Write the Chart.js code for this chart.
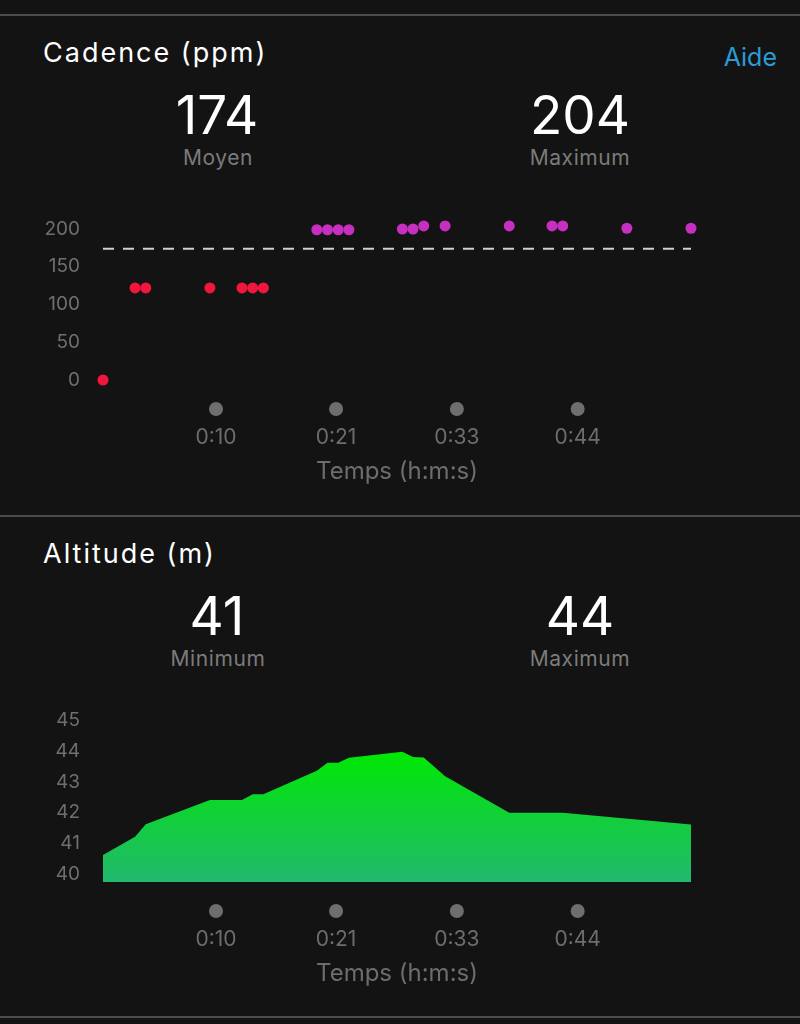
<!DOCTYPE html>
<html>
<head>
<meta charset="utf-8">
<script src="https://cdn.jsdelivr.net/npm/chart.js@4.4.0/dist/chart.umd.min.js"></script>
<style>
  html, body { margin: 0; padding: 0; background: #131313; }
  body { width: 800px; height: 1024px; position: relative; overflow: hidden; font-family: Inter, "Noto Sans", sans-serif; }
  .rule { position: absolute; left: 0; width: 800px; height: 2px; background: #4b4b4b; }
  .t { position: absolute; white-space: nowrap; line-height: 40px; height: 40px; }
  .title { left: 43px; font-size: 27px; color: #fff; letter-spacing: 2px; }
  .aide { right: 23px; font-size: 25px; color: #2b9bd6; }
  .big { font-size: 53px; color: #fff; width: 200px; text-align: center; line-height: 60px; height: 60px; }
  .sub { font-size: 21px; color: #7b7b7b; width: 200px; text-align: center; letter-spacing: 0.6px; }
  .wrap { position: absolute; left: 0; width: 800px; }
</style>
</head>
<body>
<div class="rule" style="top:14px"></div>
<div class="t title" style="top:33px">Cadence (ppm)</div>
<div class="t aide" style="top:37px">Aide</div>
<div class="t big" id="cadAvg" style="top:85px;left:117px"></div>
<div class="t sub" style="top:138px;left:118px">Moyen</div>
<div class="t big" id="cadMax" style="top:85px;left:480px"></div>
<div class="t sub" style="top:138px;left:480px">Maximum</div>
<div class="wrap" style="top:200px;height:300px"><canvas id="cadence"></canvas></div>

<div class="rule" style="top:515px"></div>
<div class="t title" style="top:534px">Altitude (m)</div>
<div class="t big" id="altMin" style="top:586px;left:117px"></div>
<div class="t sub" style="top:639px;left:118px">Minimum</div>
<div class="t big" id="altMax" style="top:586px;left:480px"></div>
<div class="t sub" style="top:639px;left:480px">Maximum</div>
<div class="wrap" style="top:690px;height:312px"><canvas id="altitude"></canvas></div>
<div class="rule" style="top:1016px"></div>

<script>
// elapsed time (minutes) and values
const totalMinutes = 55;
const xTickValues = [10.57, 21.8, 33.1, 44.4];
const xTickLabels = ['0:10', '0:21', '0:33', '0:44'];

const cadenceMinutes = [0, 3, 4, 10, 13, 14, 15, 20, 21, 22, 23, 28, 29, 30, 32, 38, 42, 43, 49, 55];
const cadenceValues = [0, 122, 122, 122, 122, 122, 122, 199, 199, 199, 199, 200, 200, 204, 204, 204, 204, 204, 201, 201];
const cadenceAverage = 174;
const cadenceMaximum = 204;
const cadenceTicks = [0, 50, 100, 150, 200];

const altitudeMinutes = [0, 3, 4, 10, 13, 14, 15, 20, 21, 22, 23, 28, 29, 30, 32, 38, 43, 55];
const altitudeValues = [40.63, 41.22, 41.63, 42.41, 42.41, 42.6, 42.6, 43.36, 43.62, 43.62, 43.78, 43.97, 43.8, 43.79, 43.18, 42.0, 42.0, 41.62];
const altitudeMinimum = 41;
const altitudeMaximum = 44;
const altitudeTicks = [40, 41, 42, 43, 44, 45];

document.getElementById('cadAvg').textContent = cadenceAverage;
document.getElementById('cadMax').textContent = cadenceMaximum;
document.getElementById('altMin').textContent = altitudeMinimum;
document.getElementById('altMax').textContent = altitudeMaximum;

Chart.defaults.font.family = 'Inter, "Noto Sans", sans-serif';

function zoneColor(v) {
  return v < 153 ? '#f2163f' : '#c62fc0';
}

const tickDots = {
  id: 'tickDots',
  afterDraw(chart) {
    const xs = chart.scales.x, ctx = chart.ctx;
    ctx.save();
    ctx.fillStyle = '#6e6e6e';
    xs.ticks.forEach(t => {
      ctx.beginPath();
      ctx.arc(xs.getPixelForValue(t.value), chart.chartArea.bottom + 29, 7, 0, Math.PI * 2);
      ctx.fill();
    });
    ctx.restore();
  }
};

function timeAxis() {
  return {
    type: 'linear', min: 0, max: totalMinutes,
    grid: { display: false, drawTicks: false },
    border: { display: false },
    afterBuildTicks: s => { s.ticks = xTickValues.map(v => ({ value: v })); },
    afterFit: s => { s.height = 120; },
    ticks: {
      padding: 45, color: '#6d6d6d', font: { size: 21 }, autoSkip: false, maxRotation: 0,
      callback: (v, i) => xTickLabels[i]
    },
    title: { display: true, text: 'Temps (h:m:s)', color: '#6d6d6d', font: { size: 24 }, padding: { top: 0, bottom: 14 } }
  };
}

function valueAxis(min, max, ticks) {
  return {
    min: min, max: max,
    grid: { display: false, drawTicks: false },
    border: { display: false },
    afterBuildTicks: s => { s.ticks = ticks.map(v => ({ value: v })); },
    afterFit: s => { s.width = 103; s.paddingTop = 0; s.paddingBottom = 0; },
    ticks: { padding: 23, color: '#6f6f6f', font: { size: 19 } }
  };
}

new Chart(document.getElementById('cadence'), {
  type: 'scatter',
  data: {
    datasets: [{
      type: 'line',
      data: [{ x: 0, y: cadenceAverage }, { x: totalMinutes, y: cadenceAverage }],
      borderColor: '#cfcfcf',
      borderWidth: 2,
      borderDash: [11, 9],
      pointRadius: 0,
      clip: false
    }, {
      data: cadenceMinutes.map((m, i) => ({ x: m, y: cadenceValues[i] })),
      pointRadius: 5.5,
      pointBackgroundColor: cadenceValues.map(zoneColor),
      pointBorderWidth: 0,
      clip: false
    }]
  },
  options: {
    responsive: true,
    maintainAspectRatio: false,
    animation: false,
    layout: { padding: { top: 29, right: 109, left: 0, bottom: 0 } },
    plugins: { legend: { display: false }, tooltip: { enabled: false } },
    scales: { x: timeAxis(), y: valueAxis(0, 200, cadenceTicks) }
  },
  plugins: [tickDots]
});

new Chart(document.getElementById('altitude'), {
  type: 'line',
  data: {
    datasets: [{
      data: altitudeMinutes.map((m, i) => ({ x: m, y: altitudeValues[i] })),
      fill: 'start',
      borderWidth: 0,
      pointRadius: 0,
      tension: 0,
      backgroundColor: ctx => {
        const chart = ctx.chart;
        if (!chart.chartArea) return '#10d040';
        const top = chart.scales.y.getPixelForValue(44);
        const g = chart.ctx.createLinearGradient(0, top, 0, chart.chartArea.bottom);
        g.addColorStop(0, '#00e803');
        g.addColorStop(1, '#22b86e');
        return g;
      }
    }]
  },
  options: {
    responsive: true,
    maintainAspectRatio: false,
    animation: false,
    layout: { padding: { top: 30, right: 109, left: 0, bottom: 0 } },
    plugins: { legend: { display: false }, tooltip: { enabled: false } },
    scales: { x: timeAxis(), y: valueAxis(39.76, 45, altitudeTicks) }
  },
  plugins: [tickDots]
});
</script>
</body>
</html>
